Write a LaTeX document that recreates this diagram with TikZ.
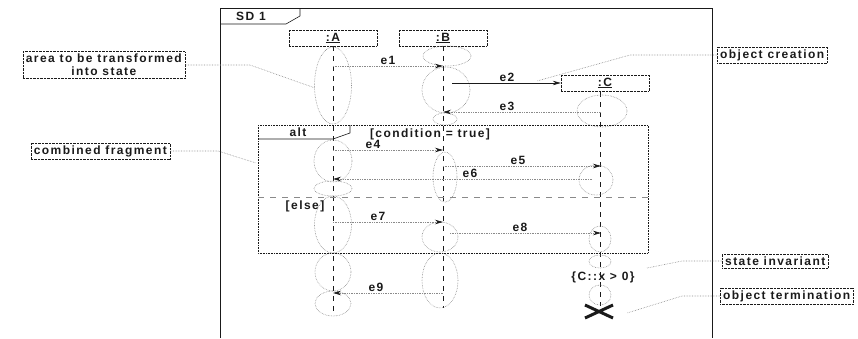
\documentclass[tikz,border=0pt]{standalone}
\usepackage{fontspec}
\newfontfamily\diagfont[LetterSpace=12]{Liberation Sans}
\usetikzlibrary{arrows.meta,positioning}
\definecolor{ink}{HTML}{1A1A1A}
\definecolor{dots}{HTML}{8A8A8A}
\tikzset{lab/.style={font=\diagfont\bfseries\fontsize{12}{13}\selectfont, text=ink, inner sep=0pt}, note/.style={lab, draw=ink, densely dotted, inner xsep=3pt, inner ysep=2.5pt, align=center}, head/.style={lab, draw=ink, densely dotted, minimum width=88pt, minimum height=16pt}, life/.style={draw=ink, dash pattern=on 5pt off 5pt, line width=.9pt}, act/.style={draw=dots, densely dotted, line width=.6pt}, msg/.style={draw=dots, densely dotted, line width=.7pt, -{Stealth[length=8pt,width=4.5pt,color=ink]}}, pin/.style={draw=dots, densely dotted, line width=.6pt}, frame/.style={draw=ink, line width=.6pt}, frag/.style={draw=ink, densely dotted, line width=.6pt}}

\begin{document}
\begin{tikzpicture}[x=1pt,y=-1pt]
\useasboundingbox (0,0) rectangle (858,338);
\draw[frame] (220,338) -- (220,8) -- (712,8) -- (712,338);
\draw[frame] (220,24) -- (286,24) -- (300,16) -- (300,8);
\node[lab] (sd) at (251,16) {SD 1};
\node[head] (A) at (333,38) {\underline{:A}};
\node[head] (B) at (443,38) {\underline{:B}};
\node[head] (C) at (605,83) {\underline{:C}};
\coordinate (Aend) at (333,316); \coordinate (Bend) at (443,308); \coordinate (Cend) at (600,306);
\draw[life] (A.south) -- (Aend); \draw[life] (B.south) -- (Bend); \draw[life] (600,92) -- (Cend);
\foreach \cx/\cy/\rx/\ry in {333/85.5/18.5/38.5, 333/161/19/21, 333/188.5/19/7.5, 333/224.5/18.5/28.5, 333/272/18/19, 333/303.5/18/12.5, 447/56/24/10, 446/90/24/23, 445/119/12/6, 445/177/12/25, 440/237/18/15, 440/280.5/18/27.5, 602/111/25/16, 596/180/17/15, 600/239/11/13, 600/261.5/11/6.5, 600/295/11/10}
  \draw[act] (\cx,\cy) ellipse (\rx pt and \ry pt);
\draw[frag] (258,125) rectangle (648,253);
\draw[frame] (258,139) -- (333,139) -- (350,133) -- (350,125);
\node[lab] (alt) at (298,132) {alt};
\node[lab] (cond) at (430,134) {[condition = true]};
\draw[dots, line width=.6pt, dash pattern=on 6pt off 6pt] (258,197) -- (648,197);
\node[lab] (else) at (305,206) {[else]};
\foreach \n/\xs/\xt/\y/\lx in {1/333/443/66/388, 3/601/443/112/507, 4/333/443/150/373, 5/443/601/166/518, 6/592/333/179/470, 7/333/443/222/378, 8/450/601/233/520, 9/443/333/293/376} {
  \coordinate (e\n s) at (\xs,\y); \coordinate (e\n t) at (\xt,\y);
  \draw[msg] (e\n s) -- (e\n t);
  \node[lab, anchor=south] (l\n) at (\lx,\y-1) {e\n};
}
\coordinate (e2s) at (452,83);
\draw[msg, draw=ink, solid] (e2s) -- (C.west);
\node[lab, anchor=south] (l2) at (507,82) {e2};
\node[lab] (inv) at (603,277) {\{C::x > 0\}};
\draw[ink, line width=3pt] (585,305) -- (613,318) (585,318) -- (613,305);
\node[note, anchor=east] (nArea) at (185,65) {area to be transformed\\into state};
\node[note, anchor=west] (nCreate) at (717,55) {object creation};
\node[note, anchor=east] (nFrag) at (170,151) {combined fragment};
\node[note, anchor=west] (nInv) at (722,261) {state invariant};
\node[note, anchor=west] (nTerm) at (720,296) {object termination};
\coordinate (kArea) at (250,65); \coordinate (tArea) at (315,88);
\coordinate (kCreate) at (630,55); \coordinate (tCreate) at (537,81);
\coordinate (kFrag) at (218,151); \coordinate (tFrag) at (256,163);
\coordinate (kInv) at (682,261); \coordinate (tInv) at (647,268);
\coordinate (kTerm) at (682,296); \coordinate (tTerm) at (627,313);
\draw[pin] (nArea.east) -- (kArea) -- (tArea);
\draw[pin] (nCreate.west) -- (kCreate) -- (tCreate);
\draw[pin] (nFrag.east) -- (kFrag) -- (tFrag);
\draw[pin] (nInv.west) -- (kInv) -- (tInv);
\draw[pin] (nTerm.west) -- (kTerm) -- (tTerm);
\end{tikzpicture}
\end{document}
